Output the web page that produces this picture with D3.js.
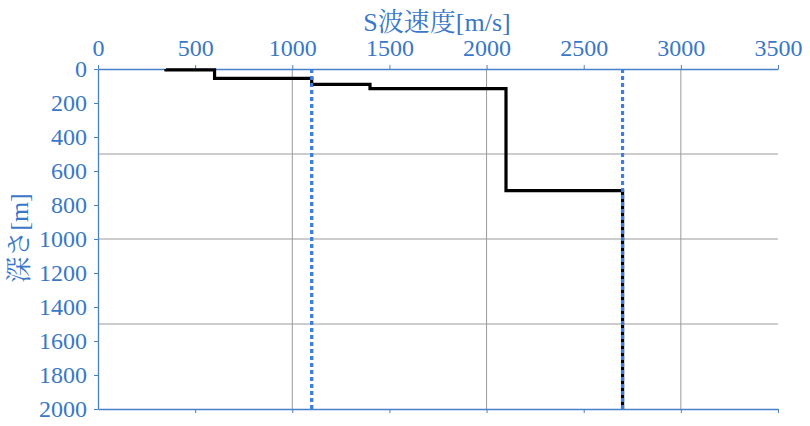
<!DOCTYPE html>
<html><head><meta charset="utf-8">
<script src="https://cdn.jsdelivr.net/npm/d3@7"></script>
<style>body{margin:0;background:#fff}svg{display:block}</style>
</head><body>
<svg id="c" width="810" height="426"></svg>
<script>
// Data
const velocities = [350, 600, 1100, 1400, 2100, 2700];      // S-wave velocity of each layer [m/s]
const layerTops  = [0, 5, 55, 90, 115, 715];                 // top depth of each layer [m]
const bottomDepth = 2000;
const refVelocities = [1100, 2700];                          // dotted reference lines
const xTicks = [0, 500, 1000, 1500, 2000, 2500, 3000, 3500];
const yTicks = [0, 200, 400, 600, 800, 1000, 1200, 1400, 1600, 1800, 2000];
const xGrid = [1000, 2000, 3000];
const yGrid = [500, 1000, 1500];
const xTitle = "S波速度[m/s]";
const yTitle = "深さ[m]";

const blue = "#3a77c7", axisBlue = "#4a7fc9", grid = "#9a9a9a";
const font = "'Liberation Serif','Noto Serif CJK JP','Times New Roman',serif";
const svg = d3.select("#c");
const L = 98, R = 778, T = 69, B = 409;
const x = d3.scaleLinear().domain([0, 3500]).range([L, R]);
const y = d3.scaleLinear().domain([0, 2000]).range([T, B]);
const fmt = d3.format("d");

// grid
svg.append("g").selectAll("line").data(xGrid).join("line")
  .attr("x1", d => x(d)).attr("x2", d => x(d)).attr("y1", T).attr("y2", B)
  .attr("stroke", grid).attr("stroke-width", 1);
svg.append("g").selectAll("line").data(yGrid).join("line")
  .attr("x1", L).attr("x2", R).attr("y1", d => y(d)).attr("y2", d => y(d))
  .attr("stroke", grid).attr("stroke-width", 1);

// axes
const gx = svg.append("g").attr("transform", `translate(0,${T})`)
  .call(d3.axisTop(x).tickValues(xTicks).tickFormat(fmt).tickSize(4).tickPadding(9).tickSizeOuter(0));
const gy = svg.append("g").attr("transform", `translate(${L},0)`)
  .call(d3.axisLeft(y).tickValues(yTicks).tickFormat(fmt).tickSize(4).tickPadding(7).tickSizeOuter(0));
const gb = svg.append("g").attr("transform", `translate(0,${B})`)
  .call(d3.axisBottom(x).tickValues(xTicks.slice(1)).tickSize(4).tickFormat("").tickSizeOuter(0));
[gx, gy, gb].forEach(g => {
  g.attr("font-family", null);
  g.select(".domain").attr("stroke", axisBlue).attr("stroke-width", 1.3);
  g.selectAll(".tick line").attr("stroke", axisBlue).attr("stroke-width", 1);
  g.selectAll(".tick text").attr("fill", blue).style("font-family", font).style("font-size", "24px");
});

// reference dotted lines (under)
svg.append("g").selectAll("line").data(refVelocities).join("line")
  .attr("x1", d => x(d)).attr("x2", d => x(d)).attr("y1", y(0)).attr("y2", y(bottomDepth))
  .attr("stroke", "#3c7fdc").attr("stroke-width", 3).attr("stroke-dasharray", "4,3");

// step profile: horizontal at layer boundaries, vertical at velocities
const stepPts = [[velocities[0], layerTops[0]]];
for (let i = 0; i < velocities.length; i++) {
  const bot = i + 1 < layerTops.length ? layerTops[i + 1] : bottomDepth;
  stepPts.push([velocities[i], bot]);
  if (i + 1 < velocities.length) stepPts.push([velocities[i + 1], bot]);
}
svg.append("path").datum(stepPts)
  .attr("d", d3.line().x(d => x(d[0])).y(d => y(d[1])))
  .attr("fill", "none").attr("stroke", "#000").attr("stroke-width", 3.2)
  .attr("stroke-linejoin", "miter");

// dotted lines over the black where overlapping
svg.append("g").selectAll("line").data(refVelocities).join("line")
  .attr("x1", d => x(d)).attr("x2", d => x(d)).attr("y1", y(0)).attr("y2", y(bottomDepth))
  .attr("stroke", "#3c7fdc").attr("stroke-width", 3).attr("stroke-dasharray", "4,3");

// titles
svg.append("text").attr("x", 437).attr("y", 31).attr("text-anchor", "middle")
  .attr("fill", blue).style("font-family", font).style("font-size", "26px").text(xTitle);
svg.append("text").attr("transform", "translate(28,238) rotate(-90)").attr("text-anchor", "middle")
  .attr("fill", blue).style("font-family", font).style("font-size", "26px").text(yTitle);
</script>
</body></html>
